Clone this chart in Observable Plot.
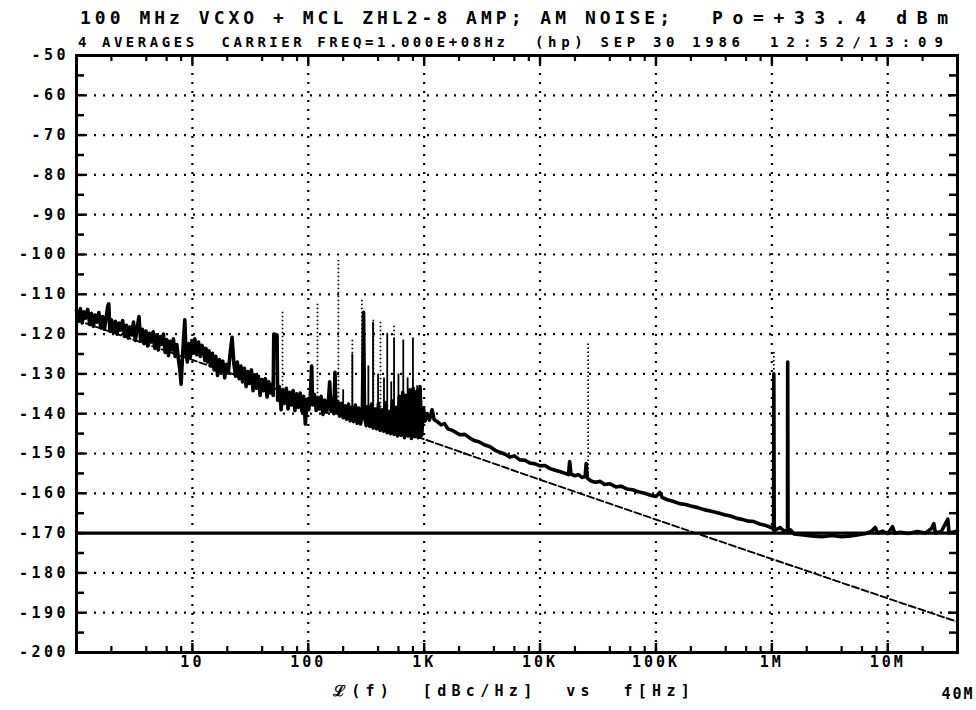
<!DOCTYPE html>
<html>
<head>
<meta charset="utf-8">
<script src="https://cdn.jsdelivr.net/npm/d3@7"></script>
<script src="https://cdn.jsdelivr.net/npm/@observablehq/plot@0.6"></script>
<style>
  html, body { margin: 0; padding: 0; background: #fff; }
  #header text { font-family: "DejaVu Sans Mono", monospace; font-weight: bold; white-space: pre; fill: #000; }
  #chart g[aria-label="y-axis tick label"] text { letter-spacing: 3.5px; }
  #chart g[aria-label="x-axis tick label"] text { letter-spacing: 3px; }
</style>
</head>
<body>
<div id="wrap" style="width:976px;height:710px;overflow:hidden;">
  <svg id="header" width="976" height="50" style="display:block"></svg>
  <div id="chart"></div>
</div>
<script>
// ---------- text ----------
const titleLine1a = "100 MHz VCXO + MCL ZHL2-8 AMP; AM NOISE;";
const titleLine1b = "Po=+33.4 dBm";
const titleLine2a = "4 AVERAGES  CARRIER FREQ=1.000E+08Hz";
const titleLine2b = "(hp) SEP 30 1986";
const titleLine2c = "12:52/13:09";
const xAxisTitle = "ℒ(f)  [dBc/Hz]  vs  f[Hz]";
const xEndLabel = "40M";

// ---------- axes ----------
const xTickValues = [10, 100, 1e3, 1e4, 1e5, 1e6, 1e7];
const xTickLabels = ["10", "100", "1K", "10K", "100K", "1M", "10M"];
const yTickValues = [-50, -60, -70, -80, -90, -100, -110, -120, -130, -140, -150, -160, -170, -180, -190, -200];
const xMinorMultipliers = [2, 4, 6, 8];
const yMinorValues = [-55, -65, -75, -85, -95, -105, -115, -125, -135, -145, -155, -165, -175, -185, -195];

// ---------- data ----------
const floorLevel = -170;
const theoryFreq = [1, 10, 100, 1e3, 1e4, 1e5, 1e6, 1e7, 4e7];
const theoryLevel = [-116.5, -126.5, -136.6, -146.4, -156.6, -166.6, -176.5, -186.4, -192.3];

// measured AM noise trace [Hz, dBc/Hz]
const traceData = [
  [1.00, -114.0], [1.04, -116.8], [1.08, -113.6], [1.12, -117.2], [1.16, -114.4], [1.20, -116.0], [1.25, -113.8], [1.30, -117.6],
  [1.35, -114.8], [1.40, -118.0], [1.45, -115.2], [1.50, -117.0], [1.56, -114.6], [1.62, -118.4], [1.68, -115.6], [1.74, -118.8],
  [1.80, -116.0], [1.86, -113.0], [1.90, -112.4], [1.94, -119.2], [2.00, -116.4], [2.08, -119.6], [2.16, -116.8], [2.24, -120.0],
  [2.32, -117.2], [2.40, -119.0], [2.50, -116.6], [2.60, -120.6], [2.70, -117.8], [2.80, -121.0], [2.90, -118.2], [3.00, -120.2],
  [3.10, -117.0], [3.22, -121.6], [3.34, -118.4], [3.46, -115.6], [3.58, -121.8], [3.70, -118.8], [3.84, -122.4], [3.98, -119.2],
  [4.12, -123.0], [4.26, -119.8], [4.42, -122.0], [4.58, -119.4], [4.74, -123.6], [4.90, -120.2], [5.08, -124.0], [5.26, -120.6],
  [5.44, -122.6], [5.62, -120.0], [5.82, -124.6], [6.02, -121.4], [6.22, -125.4], [6.42, -121.8], [6.64, -124.0], [6.86, -121.2],
  [7.10, -125.6], [7.34, -122.6], [7.58, -126.4], [7.80, -129.0], [8.00, -132.6], [8.20, -126.0], [8.40, -121.0], [8.60, -116.4],
  [8.80, -124.6], [9.05, -127.0], [9.30, -122.4], [9.60, -125.8], [9.90, -121.6], [10.2, -124.8], [10.5, -121.2], [10.9, -125.2],
  [11.3, -122.0], [11.7, -125.6], [12.1, -122.8], [12.5, -124.0], [12.8, -126.6], [13.1, -123.6], [13.5, -127.0], [13.9, -124.2],
  [14.4, -128.0], [14.9, -124.8], [15.4, -129.0], [15.9, -125.6], [16.5, -130.4], [17.1, -126.4], [17.7, -129.6], [18.3, -126.8],
  [19.0, -131.0], [19.7, -127.6], [20.4, -129.8], [21.2, -124.6], [22.0, -120.8], [22.8, -127.4], [23.6, -130.6], [24.4, -127.0],
  [25.3, -131.2], [26.2, -128.0], [27.1, -132.0], [28.1, -128.6], [29.1, -133.2], [30.1, -129.4], [31.2, -132.4], [32.3, -129.0],
  [33.4, -134.2], [34.6, -130.2], [35.8, -133.6], [37.1, -130.6], [38.4, -135.4], [39.8, -131.4], [41.2, -134.2], [42.6, -131.2],
  [44.1, -135.8], [45.6, -132.0], [47.2, -134.8], [48.8, -132.6], [49.8, -135.4], [50.4, -120.0], [53.8, -120.2], [54.4, -136.6],
  [56.3, -133.2], [58.3, -139.0], [60.3, -134.0], [62.4, -137.4], [64.6, -133.6], [66.9, -138.8], [69.2, -134.6], [71.6, -137.8],
  [74.1, -134.2], [76.7, -139.2], [79.4, -135.0], [82.2, -138.4], [85.1, -134.8], [88.1, -139.4], [91.2, -135.6], [94.4, -142.6],
  [97.7, -136.4], [101, -139.0], [104, -135.6], [107, -128.0], [109, -137.8], [113, -135.2], [117, -139.2], [121, -136.0],
  [125, -138.8], [129, -135.6], [134, -140.2], [139, -136.6], [144, -139.6], [149, -137.0], [153, -132.0], [157, -139.4],
  [162, -136.2], [166, -140.0], [170, -129.6], [174, -139.8], [180, -137.0], [186, -140.6], [193, -137.4], [200, -141.0],
  [207, -138.0], [214, -141.4], [222, -137.6], [230, -141.8], [238, -138.4], [246, -142.0], [255, -137.8], [264, -142.4],
  [273, -138.6], [283, -142.6], [293, -139.0], [300, -114.5], [306, -140.8], [316, -143.0], [327, -138.2], [339, -143.2],
  [351, -137.6], [363, -143.6], [376, -138.8], [389, -143.8], [403, -137.4], [417, -144.2], [432, -139.0], [447, -144.4],
  [463, -137.2], [479, -144.8], [496, -139.4], [513, -145.0], [531, -136.8], [550, -145.2], [569, -138.4], [589, -145.6],
  [610, -135.6], [631, -145.4], [653, -134.6], [676, -146.0], [700, -135.4], [725, -145.6], [750, -134.0], [776, -146.2],
  [803, -133.6], [831, -145.8], [860, -134.4], [890, -146.0], [921, -133.2], [953, -145.4], [986, -138.6], [1020, -141.8],
  [1060, -140.0], [1110, -141.6], [1170, -139.0], [1220, -141.5], [1300, -142.0], [1400, -142.8], [1500, -142.5], [1600, -143.8],
  [1750, -144.2], [1900, -144.8], [2050, -145.3], [2250, -145.2], [2500, -146.2], [2750, -146.8], [3000, -147.1], [3300, -147.8],
  [3700, -148.3], [4100, -149.2], [4500, -149.7], [5000, -150.2], [5500, -150.9], [6000, -150.6], [6700, -151.6], [7400, -151.7],
  [8200, -152.4], [9100, -152.6], [10000, -153.1], [11000, -153.0], [12200, -153.8], [13500, -154.2], [15000, -154.6], [16500, -155.0],
  [17600, -155.3], [18000, -152], [18500, -155.2], [20000, -155.6], [21500, -155.3], [23000, -156.0], [24500, -155.8], [25000, -152.5],
  [25600, -156.2], [27500, -156.9], [30000, -157.2], [33000, -157.0], [36000, -157.8], [40000, -157.6], [45000, -158.4], [50000, -158.2],
  [56000, -158.9], [63000, -159.1], [70000, -159.6], [80000, -160.0], [90000, -160.5], [100000, -160.8], [108000, -159.8], [113000, -161.0],
  [125000, -161.6], [140000, -162.0], [160000, -162.6], [180000, -162.8], [200000, -163.2], [230000, -163.6], [260000, -164.1], [300000, -164.5],
  [340000, -164.9], [390000, -165.4], [440000, -165.7], [500000, -166.3], [560000, -166.6], [630000, -167.0], [700000, -167.1], [780000, -167.7],
  [870000, -168.0], [950000, -168.4], [1020000, -168.8], [1035000, -169.2], [1040000, -130], [1048000, -169.4], [1100000, -169.0],
  [1180000, -168.6], [1250000, -169.3], [1340000, -169.6], [1365000, -169.8], [1370000, -127], [1380000, -169.8], [1450000, -169.2],
  [1550000, -170.2], [1800000, -170.4], [2200000, -170.7], [2700000, -170.9], [3300000, -170.6], [4000000, -170.9], [4800000, -170.7],
  [5600000, -170.4], [6500000, -170.1], [7200000, -169.6], [7800000, -168.6], [8200000, -170.0], [9000000, -169.5], [10000000, -170.1],
  [11000000, -168.4], [11500000, -170.0], [13000000, -169.8], [15000000, -170.1], [18000000, -169.6], [21000000, -170.0], [24000000, -168.8],
  [25000000, -167.6], [25800000, -170.0], [29000000, -169.6], [33000000, -166.5], [33800000, -170.0], [37000000, -169.7], [40000000, -169.5]
];

// dotted spur lines [Hz, top, base]
const dottedSpurFreq = [60, 120, 182, 240, 290, 365, 420, 550, 26000, 1040000];
const dottedSpurTop  = [-114, -112, -101.5, -121, -111, -116, -117, -118, -122, -124];
const dottedSpurBase = [-136, -137, -139, -140, -140, -141, -141.5, -142.5, -155, -130];

// thin solid spur lines [Hz, top, base]
const solidSpurFreq = [200, 240, 330, 362, 400, 450, 480, 520, 550, 600, 660, 720, 800, 870, 930];
const solidSpurTop  = [-134, -125, -128, -117, -130, -131, -119.8, -132, -121, -130, -121.5, -131, -121, -133, -134];
const solidSpurBase = [-141, -141.5, -142.5, -143, -143.5, -144, -144.5, -145, -145, -145.5, -145.5, -146, -146, -146, -146];

// ---------- build ----------
const theory = theoryFreq.map((f, i) => ({f, v: theoryLevel[i]}));
const trace = traceData.map(([f, v]) => ({f, v}));
const dottedSpurs = dottedSpurFreq.map((f, i) => ({f, top: dottedSpurTop[i], base: dottedSpurBase[i]}));
const solidSpurs = solidSpurFreq.map((f, i) => ({f, top: solidSpurTop[i], base: solidSpurBase[i]}));
const xMinorValues = [];
for (let d = 1; d <= 1e7; d *= 10) for (const m of xMinorMultipliers) if (d * m < 4e7) xMinorValues.push(d * m);
const yGridValues = yTickValues.filter(v => v !== -50 && v !== -200 && v !== floorLevel);
const xLabelOf = new Map(xTickValues.map((v, i) => [v, xTickLabels[i]]));

// header
const ns = "http://www.w3.org/2000/svg";
const header = document.getElementById("header");
function addText(str, x, y, len, size) {
  const t = document.createElementNS(ns, "text");
  t.setAttribute("x", x); t.setAttribute("y", y);
  t.setAttribute("textLength", len); t.setAttribute("lengthAdjust", "spacing");
  t.setAttribute("font-size", size);
  t.textContent = str;
  header.appendChild(t);
}
addText(titleLine1a, 80, 24, 590, 18);
addText(titleLine1b, 712, 24, 236, 18);
addText(titleLine2a, 78, 47, 427, 14);
addText(titleLine2b, 535, 47, 205, 14);
addText(titleLine2c, 770, 47, 173, 14);

const W = 976, H = 660, mT = 5, mB = 58, mL = 76, mR = 19;
const fw = W - mL - mR, fh = H - mT - mB;
const k = "black";

const chart = Plot.plot({
  width: W, height: H,
  marginTop: mT, marginBottom: mB, marginLeft: mL, marginRight: mR,
  x: {type: "log", domain: [1, 4e7]},
  y: {domain: [-200, -50]},
  style: "font-family: 'DejaVu Sans Mono', monospace; font-weight: bold; font-size: 15px; white-space: pre; background: white; color: black; overflow: visible; display: block;",
  marks: [
    // dotted grid
    Plot.ruleX(xTickValues, {stroke: k, strokeWidth: 2.2, strokeDasharray: "2,7"}),
    Plot.ruleY(yGridValues, {stroke: k, strokeWidth: 2.2, strokeDasharray: "2,7"}),
    // reference floor
    Plot.ruleY([floorLevel], {stroke: k, strokeWidth: 3.4}),
    // theoretical line
    Plot.line(theory, {x: "f", y: "v", stroke: k, strokeWidth: 1.9, strokeDasharray: "7,3"}),
    // spurs
    Plot.ruleX(dottedSpurs, {x: "f", y1: "base", y2: "top", stroke: k, strokeWidth: 1.7, strokeDasharray: "1.5,2.5"}),
    Plot.ruleX(solidSpurs, {x: "f", y1: "base", y2: "top", stroke: k, strokeWidth: 1.8}),
    // measured trace
    Plot.line(trace, {x: "f", y: "v", stroke: k, strokeWidth: 3.6, strokeLinejoin: "round"}),
    // inward ticks
    Plot.ruleY(yTickValues, {stroke: k, strokeWidth: 2.5, insetRight: fw - 9}),
    Plot.ruleY(yMinorValues, {stroke: k, strokeWidth: 2.5, insetRight: fw - 8}),
    Plot.ruleY(yTickValues, {stroke: k, strokeWidth: 2.5, insetLeft: fw - 9}),
    Plot.ruleY(yMinorValues, {stroke: k, strokeWidth: 2.5, insetLeft: fw - 8}),
    Plot.ruleX(xTickValues, {stroke: k, strokeWidth: 2.5, insetTop: fh - 9}),
    Plot.ruleX(xMinorValues, {stroke: k, strokeWidth: 2.2, insetTop: fh - 6}),
    Plot.ruleX(xTickValues, {stroke: k, strokeWidth: 2.5, insetBottom: fh - 9}),
    Plot.ruleX(xMinorValues, {stroke: k, strokeWidth: 2.2, insetBottom: fh - 6}),
    Plot.frame({stroke: k, strokeWidth: 3}),
    // axes
    Plot.axisX({ticks: xTickValues, tickFormat: d => xLabelOf.get(d), tickSize: 0, tickPadding: 4, fontSize: 15, label: null}),
    Plot.axisY({ticks: yTickValues, tickFormat: d => String(d), tickSize: 0, tickPadding: 7.5, fontSize: 15, label: null}),
    Plot.text([xAxisTitle], {frameAnchor: "bottom", dy: 43, dx: 0, fill: k, fontSize: 15}),
    Plot.text([xEndLabel], {frameAnchor: "bottom-right", dy: 46, dx: 17, textAnchor: "end", fill: k, fontSize: 15})
  ]
});
// plotter-style wide character spacing on the free texts
d3.select(chart).selectAll("text").filter(function() { return this.textContent === xAxisTitle; })
  .style("letter-spacing", "5.3px").attr("dx", -3);
d3.select(chart).selectAll("text").filter(function() { return this.textContent === xEndLabel; })
  .style("letter-spacing", "2px");
document.getElementById("chart").appendChild(chart);
</script>
</body>
</html>
